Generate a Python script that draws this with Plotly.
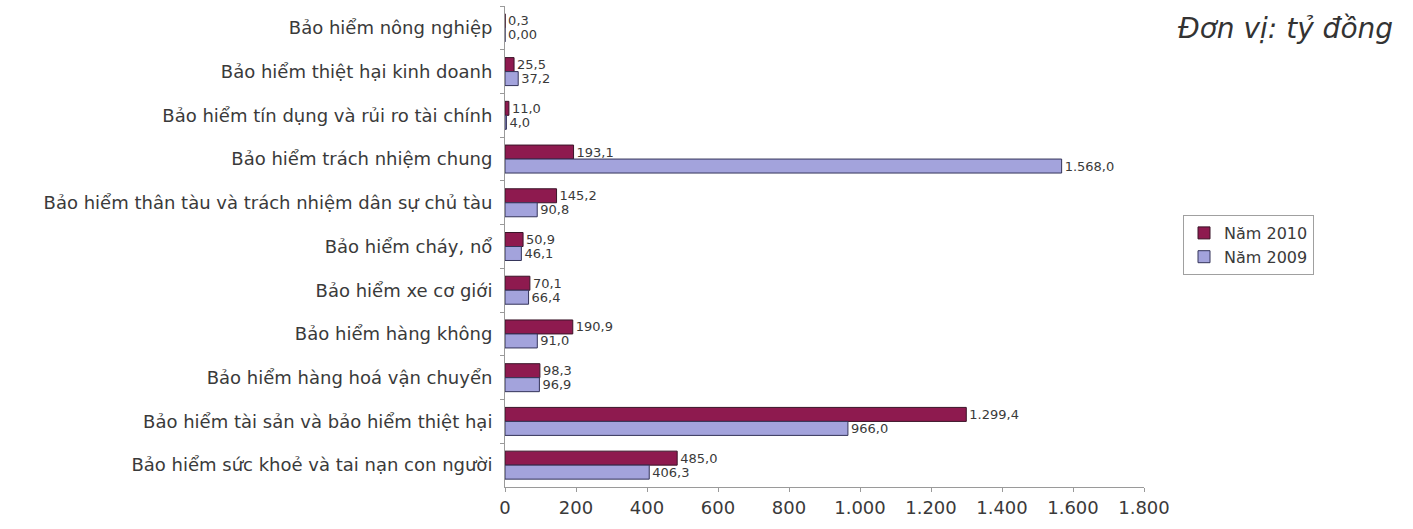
import plotly.graph_objects as go

# Categories, top to bottom
categories = [
    "Bảo hiểm nông nghiệp",
    "Bảo hiểm thiệt hại kinh doanh",
    "Bảo hiểm tín dụng và rủi ro tài chính",
    "Bảo hiểm trách nhiệm chung",
    "Bảo hiểm thân tàu và trách nhiệm dân sự chủ tàu",
    "Bảo hiểm cháy, nổ",
    "Bảo hiểm xe cơ giới",
    "Bảo hiểm hàng không",
    "Bảo hiểm hàng hoá vận chuyển",
    "Bảo hiểm tài sản và bảo hiểm thiệt hại",
    "Bảo hiểm sức khoẻ và tai nạn con người",
]

# Premium revenue (tỷ đồng)
values_2010 = [0.3, 25.5, 11.0, 193.1, 145.2, 50.9, 70.1, 190.9, 98.3, 1299.4, 485.0]
values_2009 = [0.0, 37.2, 4.0, 1568.0, 90.8, 46.1, 66.4, 91.0, 96.9, 966.0, 406.3]

# Decimal places printed in each label
decimals_2010 = [1] * 11
decimals_2009 = [2] + [1] * 10

x_ticks = [0, 200, 400, 600, 800, 1000, 1200, 1400, 1600, 1800]


def vn_number(v, d=1):
    s = f"{v:,.{d}f}"
    return s.replace(",", "_").replace(".", ",").replace("_", ".")


text_2010 = [vn_number(v, d) for v, d in zip(values_2010, decimals_2010)]
text_2009 = [vn_number(v, d) for v, d in zip(values_2009, decimals_2009)]
tick_text = [vn_number(t, 0) for t in x_ticks]

FONT = "DejaVu Sans"
TEXT_COLOR = "#3a3a3a"

fig = go.Figure()
fig.add_trace(go.Bar(
    name="Năm 2010", y=categories, x=values_2010, orientation="h",
    marker=dict(color="#8e1a4f", line=dict(color="#3a1428", width=1)),
    text=text_2010, textposition="outside", cliponaxis=False,
    constraintext="none",
    textfont=dict(family=FONT, size=13, color=TEXT_COLOR),
))
fig.add_trace(go.Bar(
    name="Năm 2009", y=categories, x=values_2009, orientation="h",
    marker=dict(color="#a3a3dc", line=dict(color="#34345a", width=1)),
    text=text_2009, textposition="outside", cliponaxis=False,
    constraintext="none",
    textfont=dict(family=FONT, size=13, color=TEXT_COLOR),
))

L, R, T, B = 505, 1144, 6, 487
W, H = 1413, 529
pw, ph = R - L, B - T

fig.update_layout(
    width=W, height=H,
    margin=dict(l=L, r=W - R, t=T, b=H - B, pad=0),
    barmode="group", bargap=0.36, bargroupgap=0,
    plot_bgcolor="white", paper_bgcolor="white",
    font=dict(family=FONT, color=TEXT_COLOR),
    legend=dict(
        x=(1183 - L) / pw, y=(B - 215) / ph, xanchor="left", yanchor="top",
        traceorder="normal", bordercolor="#a0a0a0", borderwidth=1,
        bgcolor="white", font=dict(family=FONT, size=16, color=TEXT_COLOR),
        itemwidth=30, tracegroupgap=2,
    ),
    annotations=[dict(
        text="<i>Đơn vị: tỷ đồng</i>", xref="paper", yref="paper",
        x=(1395 - L) / pw, y=(B - 28) / ph, xanchor="right", yanchor="middle",
        showarrow=False, font=dict(family=FONT, size=28, color="#333333"),
    )],
)

fig.update_yaxes(
    type="category", autorange="reversed",
    showline=True, linecolor="#9a9a9a", linewidth=1,
    ticks="outside", tickson="boundaries", ticklen=4, tickcolor="#9a9a9a",
    ticklabelstandoff=8,
    tickfont=dict(family=FONT, size=18, color=TEXT_COLOR),
    showgrid=False, zeroline=False,
)
fig.update_xaxes(
    range=[0, 1800], tickvals=x_ticks, ticktext=tick_text,
    showline=True, linecolor="#9a9a9a", linewidth=1,
    ticks="outside", ticklen=4, tickcolor="#9a9a9a",
    tickfont=dict(family=FONT, size=18, color=TEXT_COLOR),
    showgrid=False, zeroline=False,
)

fig.write_html("out.html")
